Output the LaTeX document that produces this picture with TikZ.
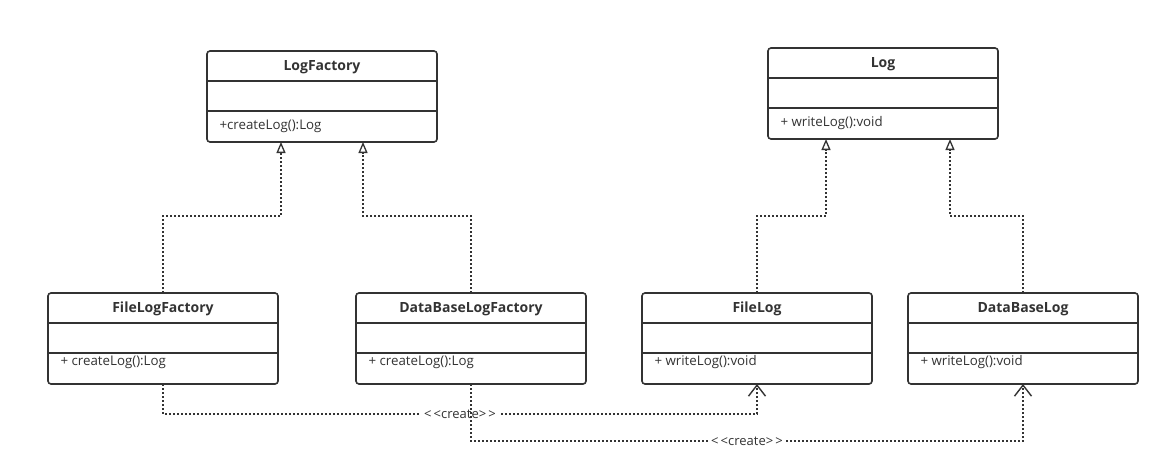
\documentclass[tikz,border=0pt]{standalone}
\usepackage{fontspec}
\setmainfont{Open Sans}
\usetikzlibrary{arrows.meta,calc}
\definecolor{ink}{HTML}{333333}
\tikzset{
  classbox/.style={draw=ink, line width=1.6pt, rounded corners=3pt,
    minimum width=230pt, minimum height=91pt, inner sep=0pt, outer sep=0pt},
  divider/.style={draw=ink, line width=1.4pt},
  classtitle/.style={font=\fontsize{14}{16}\selectfont\bfseries, text=ink, anchor=center},
  member/.style={font=\fontsize{13.3}{15}\selectfont, text=ink, anchor=west},
  dotline/.style={draw=ink, line width=1.6pt, dash pattern=on 1.6pt off 2.4pt},
  realize/.style={dotline, -{Triangle[open,length=11pt,width=9pt,line width=1.3pt]}},
  creates/.style={dotline, -{Straight Barb[length=11pt,width=17pt,line width=1.4pt]}},
  stereo/.style={font=\fontsize{13}{15}\selectfont, text=ink, fill=white, inner xsep=3pt, inner ysep=1pt}
}
% \umlclass[operation offset]{name}{centre x}{top y}{title}{operation}
\newcommand\umlclass[6][75.5]{%
  \node[classbox] (#2) at (#3,#4+45.5) {};
  \node[classtitle] (#2-title) at ($(#2.north)+(0,16)$) {#5};
  \draw[divider] ($(#2.north west)+(0,30)$) -- ($(#2.north east)+(0,30)$);
  \draw[divider] ($(#2.north west)+(0,60)$) -- ($(#2.north east)+(0,60)$);
  \node[member] (#2-op) at ($(#2.north west)+(9,#1)$) {#6};
}
\begin{document}
\begin{tikzpicture}[x=1pt,y=-1pt]
\useasboundingbox (0,0) rectangle (1170,474);
\fill[white] (0,0) rectangle (1170,474);

\umlclass{lf}{322}{51}{LogFactory}{+createLog():Log}
\umlclass{log}{883}{48}{Log}{+ writeLog():void}
\umlclass[69.5]{flf}{163}{293}{FileLogFactory}{+ createLog():Log}
\umlclass[69.5]{dlf}{471}{293}{DataBaseLogFactory}{+ createLog():Log}
\umlclass[69.5]{fl}{757}{293}{FileLog}{+ writeLog():void}
\umlclass[69.5]{dl}{1023}{293}{DataBaseLog}{+ writeLog():void}

% realizations
\draw[realize] (flf.north) -- ++(0,-77) -| ([xshift=74pt]lf.south west);
\draw[realize] (dlf.north) -- ++(0,-77) -| ([xshift=156pt]lf.south west);
\draw[realize] (fl.north) -- ++(0,-77) -| ([xshift=58pt]log.south west);
\draw[realize] (dl.north) -- ++(0,-77) -| ([xshift=182pt]log.south west);

% create dependencies
\draw[creates] (flf.south) -- ++(0,30) -| node[stereo, pos=0.25] (c1) {<\,<create>\,>} (fl.south);
\draw[creates] (dlf.south) -- ++(0,57) -| node[stereo, pos=0.25] (c2) {<\,<create>\,>} (dl.south);
\end{tikzpicture}
\end{document}
